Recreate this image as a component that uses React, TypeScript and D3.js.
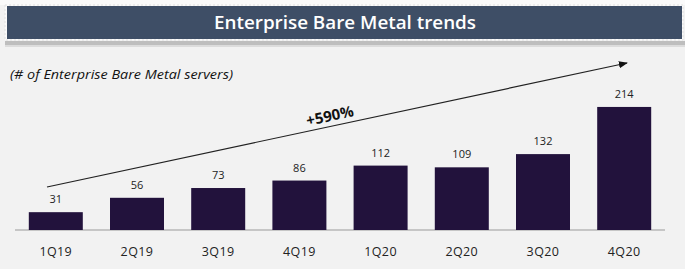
import React from "react";
import * as d3 from "d3";

const categories = ["1Q19", "2Q19", "3Q19", "4Q19", "1Q20", "2Q20", "3Q20", "4Q20"];
const values = [31, 56, 73, 86, 112, 109, 132, 214];
const titleText = "Enterprise Bare Metal trends";
const subtitleText = "(# of Enterprise Bare Metal servers)";
const growthLabel = "+590%";

const W = 685;
const H = 269;

export default function App() {
  const x = d3.scaleBand<string>().domain(categories).range([15, 665]).paddingInner(0.335).paddingOuter(0.17);
  const y = d3.scaleLinear().domain([0, 250]).range([230, 230 - 0.575 * 250]);
  const font = "'Open Sans', 'Noto Sans', sans-serif";

  const ax1 = 47, ay1 = 187, ax2 = 627, ay2 = 63;
  const ang = (Math.atan2(ay2 - ay1, ax2 - ax1) * 180) / Math.PI;

  return (
    <svg width={W} height={H} style={{ position: "fixed", left: 0, top: 0, display: "block" }} fontFamily={font}>
      <defs>
        <marker id="ah" viewBox="0 0 10 10" refX="9" refY="5" markerWidth="9" markerHeight="9" orient="auto" markerUnits="userSpaceOnUse">
          <path d="M0,1 L10,5 L0,9 z" fill="#111" />
        </marker>
      </defs>
      <rect x={0} y={0} width={W} height={H} fill="#f2f2f2" />
      <rect x={0} y={0} width={W} height={5} fill="#fafafa" />
      <rect x={5} y={5} width={678} height={35} fill="#fbfbfb" stroke="#e0e0e0" strokeDasharray="2,2" />
      <rect x={7} y={6} width={675} height={33} fill="#3e4e66" />
      <rect x={5} y={41} width={680} height={4} fill="#a8a8a8" opacity={0.7} />
      <rect x={5} y={45} width={680} height={2} fill="#dcdcdc" />
      <text x={214} y={29} fill="#ffffff" fontSize={18} fontWeight={600} textLength={262} lengthAdjust="spacingAndGlyphs">
        {titleText}
      </text>
      <text x={10} y={79} fill="#111" fontSize={12.5} fontStyle="italic" textLength={223} lengthAdjust="spacingAndGlyphs">
        {subtitleText}
      </text>
      <line x1={15} x2={665} y1={230} y2={230} stroke="#9a9a9a" strokeWidth={1} />
      {categories.map((c, i) => (
        <g key={c}>
          <rect x={x(c)} y={y(values[i])} width={x.bandwidth()} height={y(0) - y(values[i])} fill="#22123c" />
          <text x={(x(c) as number) + x.bandwidth() / 2} y={y(values[i]) - 9} textAnchor="middle" fontSize={11} fill="#222">
            {values[i]}
          </text>
          <text x={(x(c) as number) + x.bandwidth() / 2} y={256} textAnchor="middle" fontSize={12.5} fill="#222" letterSpacing={0.4}>
            {c}
          </text>
        </g>
      ))}
      <line x1={ax1} y1={ay1} x2={ax2} y2={ay2} stroke="#222" strokeWidth={1.2} markerEnd="url(#ah)" />
      <text x={331} y={121} textAnchor="middle" fontSize={15} fontWeight={700} fill="#111" transform={`rotate(${ang} 331 121)`}>
        {growthLabel}
      </text>
    </svg>
  );
}
